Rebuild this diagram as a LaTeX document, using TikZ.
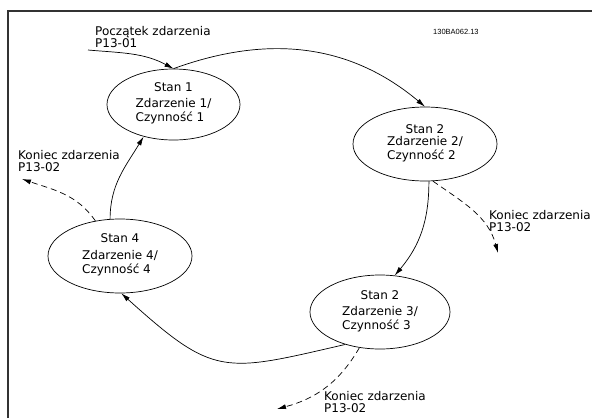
\documentclass[tikz,border=0pt]{standalone}
\usepackage{fontspec}
\setmainfont{DejaVu Sans}
\newfontfamily\codefont{Liberation Sans}
\usetikzlibrary{shapes.geometric,arrows.meta,positioning}

\begin{document}
\begin{tikzpicture}[x=1pt,y=-1pt,font=\fontsize{12}{14}\selectfont,
  st/.style={draw,shape=ellipse,inner sep=0pt,line width=0.7pt,minimum width=142pt,minimum height=74pt,align=center},
  lbl/.style={anchor=west,align=left,inner sep=0pt,font=\fontsize{12}{12}\selectfont},
  arr/.style={-{Latex[length=9pt,width=5pt]},line width=0.7pt},
  dsh/.style={arr,dash pattern=on 6pt off 4pt}]
\useasboundingbox (0,0) rectangle (592,418);
\draw[line width=1.2pt,black!80] (8,418) -- (8,11) -- (592,11);
% states
\node[st,minimum width=133pt,minimum height=71pt] (s1) at (173.5,104.5) {Stan 1\\[5pt]\begin{tabular}{@{}l@{}}Zdarzenie 1/\\Czynność 1\end{tabular}};
\node[st,minimum width=144pt,minimum height=74pt] (s2) at (425,144) {Stan 2\\[1pt]\begin{tabular}{@{}l@{}}Zdarzenie 2/\\Czynność 2\end{tabular}};
\node[st,minimum width=140pt,minimum height=74pt] (s3) at (380,312) {Stan 2\\[5pt]\begin{tabular}{@{}l@{}}Zdarzenie 3/\\Czynność 3\end{tabular}};
\node[st,minimum width=144pt,minimum height=74pt] (s4) at (120,256) {Stan 4\\[6pt]\begin{tabular}{@{}l@{}}Zdarzenie 4/\\Czynność 4\end{tabular}};
% labels
\node[lbl] (l0) at (95,37.5) {Początek zdarzenia\\P13-01};
\node[lbl] (l4) at (18,161) {Koniec zdarzenia\\P13-02};
\node[lbl] (l2) at (489,221.5) {Koniec zdarzenia\\P13-02};
\node[lbl] (l3) at (324,402.5) {Koniec zdarzenia\\P13-02};
\node[anchor=west,inner sep=0pt,font=\codefont\fontsize{7.5}{9}\selectfont] (code) at (433,32) {130BA062.13};
% free ends
\coordinate (in) at (88,50);
\coordinate (e2) at (498,253);
\coordinate (e3) at (277,409);
\coordinate (e4) at (22,179);
% transitions
\draw[arr] (in) to[out=-5,in=152] (s1.north);
\draw[arr] (s1.north) to[out=20,in=140] (s2.north);
\draw[arr] (s2.-84) to[out=-90,in=50] (s3.68);
\draw[dsh] (s2.-78) to[out=-35,in=105] (e2);
\draw[arr] (s3.-137) to[out=193,in=-42,looseness=1.4] (s4.-88);
\draw[dsh] (s3.-120) to[out=240,in=15] (e3);
\draw[arr] (s4.105) to[out=90,in=-121] (s1.-133);
\draw[dsh] (s4.125) to[out=125,in=-19] (e4);
\end{tikzpicture}
\end{document}
